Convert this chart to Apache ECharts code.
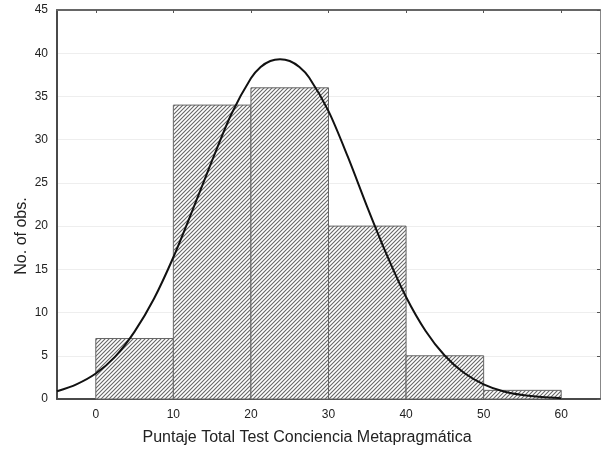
<!DOCTYPE html>
<html>
<head>
<meta charset="utf-8">
<script src="https://cdn.jsdelivr.net/npm/echarts@6/dist/echarts.min.js"></script>
<style>
  html, body { margin: 0; padding: 0; background: #fff; }
  #main { width: 601px; height: 450px; }
</style>
</head>
<body>
<div id="main"></div>
<script>
// histogram bins (lower edge, upper edge) and counts
const binStart = [0, 10, 20, 30, 40, 50]
const binEnd = [10, 20, 30, 40, 50, 60]
const counts = [7, 34, 36, 20, 5, 1]

// fitted normal curve
const curveX = [-5, -2.5, 0, 2.5, 5, 7.5, 10, 12.5, 15, 17.5, 20, 21.25, 22.5, 23.75, 25, 26.25, 27.5, 30, 32.5, 35, 37.5, 40, 42.5, 45, 47.5, 50, 52.5, 55, 57.5, 60]
const curveY = [0.9, 1.7, 2.95, 4.9, 7.8, 11.6, 16.4, 21.9, 27.6, 33.0, 37.1, 38.4, 39.1, 39.3, 39.1, 38.4, 37.2, 33.3, 28.0, 22.2, 16.7, 11.8, 7.9, 5.0, 3.0, 1.7, 0.9, 0.46, 0.22, 0.1]

const xTicks = [0, 10, 20, 30, 40, 50, 60]

const lineColor = '#4a4a4a'

// hatch pattern for the bars
function makeHatch () {
  const c = document.createElement('canvas')
  c.width = 4
  c.height = 4
  const ctx = c.getContext('2d')
  ctx.fillStyle = '#fff'
  ctx.fillRect(0, 0, 4, 4)
  ctx.strokeStyle = '#666'
  ctx.lineWidth = 1.1
  ctx.beginPath()
  ctx.moveTo(-1, 5); ctx.lineTo(5, -1)
  ctx.moveTo(-3, 3); ctx.lineTo(3, -3)
  ctx.moveTo(1, 7); ctx.lineTo(7, 1)
  ctx.stroke()
  return c
}

const chart = echarts.init(document.getElementById('main'))
const hatch = makeHatch()

const barData = binStart.map((s, i) => [s, binEnd[i], counts[i]])
const curveData = curveX.map((x, i) => [x, curveY[i]])

const option = {
  backgroundColor: '#fff',
  animation: false,
  grid: { left: 57, top: 10, right: 1, bottom: 51 },
  xAxis: [
    {
      type: 'value',
      min: -5,
      max: 65,
      interval: 5,
      axisLine: { show: true, onZero: false, lineStyle: { color: lineColor, width: 2 } },
      axisTick: { show: false },
      splitLine: { show: false },
      axisLabel: {
        customValues: xTicks,
        color: '#222',
        fontSize: 12,
        fontFamily: 'Liberation Sans, Arial, sans-serif',
        margin: 10
      }
    },
    {
      type: 'value',
      position: 'top',
      min: -5,
      max: 65,
      interval: 5,
      axisLine: { show: true, onZero: false, lineStyle: { color: '#666', width: 2 } },
      axisTick: { show: true, inside: true, length: 3, customValues: xTicks, lineStyle: { color: '#555' } },
      axisLabel: { show: false },
      splitLine: { show: false }
    }
  ],
  yAxis: [
    {
      type: 'value',
      min: 0,
      max: 45,
      interval: 5,
      axisLine: { show: true, onZero: false, lineStyle: { color: lineColor, width: 2 } },
      axisTick: { show: false },
      splitLine: { show: true, lineStyle: { color: '#eeeeee', width: 1 } },
      axisLabel: {
        color: '#222',
        fontSize: 12,
        fontFamily: 'Liberation Sans, Arial, sans-serif',
        margin: 9
      }
    },
    {
      type: 'value',
      position: 'right',
      min: 0,
      max: 45,
      interval: 5,
      axisLine: { show: true, onZero: false, lineStyle: { color: '#888', width: 1 } },
      axisTick: { show: true, inside: true, length: 3, lineStyle: { color: '#555' } },
      axisLabel: { show: false },
      splitLine: { show: false }
    }
  ],
  graphic: [
    {
      type: 'text',
      x: 22,
      y: 236,
      rotation: Math.PI / 2,
      style: {
        text: 'No. of obs.',
        font: '16px "Liberation Sans", Arial, sans-serif',
        fill: '#222',
        textAlign: 'center',
        textVerticalAlign: 'middle'
      }
    },
    {
      type: 'text',
      x: 307,
      y: 438,
      style: {
        text: 'Puntaje Total Test Conciencia Metapragmática',
        font: '16px "Liberation Sans", Arial, sans-serif',
        fill: '#222',
        textAlign: 'center',
        textVerticalAlign: 'middle'
      }
    }
  ],
  series: [
    {
      type: 'custom',
      xAxisIndex: 0,
      yAxisIndex: 0,
      data: barData,
      renderItem: function (params, api) {
        const p0 = api.coord([api.value(0), 0])
        const p1 = api.coord([api.value(1), api.value(2)])
        return {
          type: 'rect',
          shape: { x: p0[0], y: p1[1], width: p1[0] - p0[0], height: p0[1] - p1[1] },
          style: {
            fill: { image: hatch, repeat: 'repeat' },
            stroke: '#666',
            lineWidth: 1
          }
        }
      },
      z: 2
    },
    {
      type: 'line',
      data: curveData,
      smooth: 0.3,
      symbol: 'none',
      lineStyle: { color: '#111', width: 2 },
      z: 5
    }
  ]
}

chart.setOption(option)
</script>
</body>
</html>
